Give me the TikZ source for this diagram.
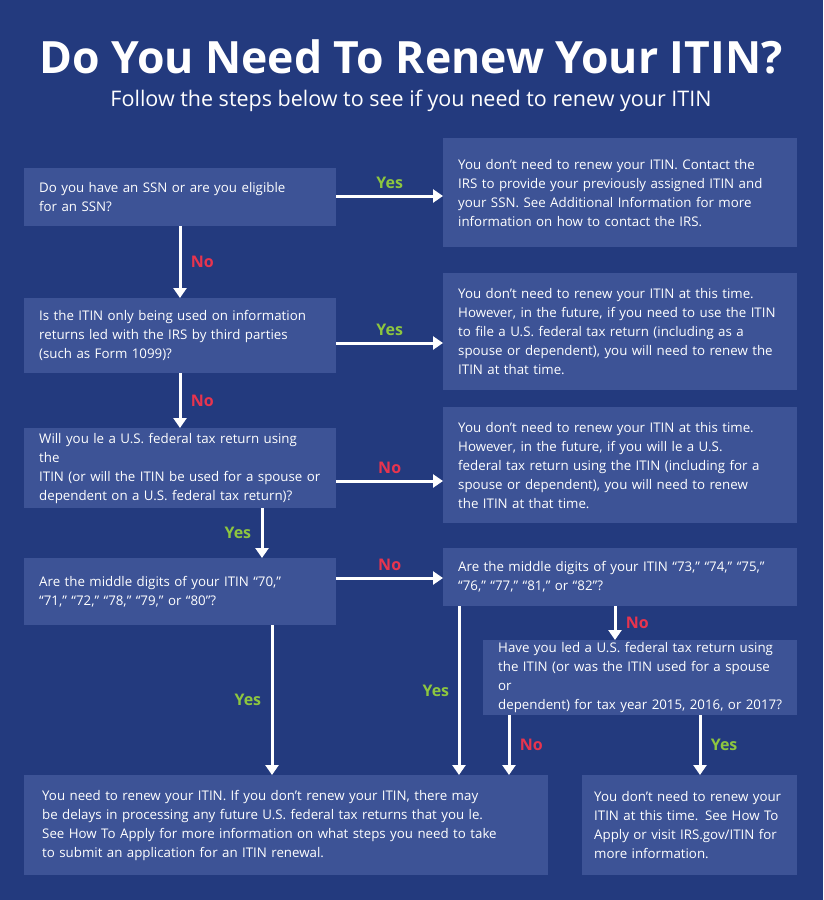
\documentclass[tikz,border=0pt]{standalone}
\usepackage{fontspec}
\setmainfont{Open Sans}
\usetikzlibrary{arrows.meta,calc}
\definecolor{bg}{HTML}{233A7E}
\definecolor{bx}{HTML}{3D5396}
\definecolor{yes}{HTML}{8DC63F}
\definecolor{no}{HTML}{E8344E}
\tikzset{
 box/.style={fill=bx,text=white,anchor=north west,align=left,inner xsep=15pt,inner ysep=0pt,font=\fontsize{13.3}{19}\selectfont},
 bs/.style 2 args={minimum width=#1pt,minimum height=#2pt,text width=#1pt-30pt},
 arr/.style={draw=white,line width=3pt,-{Triangle[width=13pt,length=10pt]}},
 yl/.style={text=yes,font=\bfseries\fontsize{16}{18}\selectfont},
 nl/.style={text=no,font=\bfseries\fontsize{16}{18}\selectfont}
}
\begin{document}
\begin{tikzpicture}[x=1pt,y=-1pt]
\fill[bg] (0,0) rectangle (823,900);
\useasboundingbox (0,0) rectangle (823,900);
\node[text=white,font=\bfseries\fontsize{44.5}{50}\selectfont] (title) at (411,57) {Do You Need To Renew Your ITIN?};
\node[text=white,font=\fontsize{21.5}{24}\selectfont] (sub) at (411,101) {Follow the steps below to see if you need to renew your ITIN};
\node[box,bs={312}{58}] (q1) at (24,168) {Do you have an SSN or are you eligible\\for an SSN?};
\node[box,bs={354}{109}] (a1) at (443,138) {You don’t need to renew your ITIN. Contact the\\IRS to provide your previously assigned ITIN and\\your SSN. See Additional Information for more\\information on how to contact the IRS.};
\node[box,bs={312}{75}] (q2) at (24,298) {Is the ITIN only being used on information\\returns led with the IRS by third parties\\(such as Form 1099)?};
\node[box,bs={354}{117}] (a2) at (443,273) {You don’t need to renew your ITIN at this time.\\However, in the future, if you need to use the ITIN\\to file a U.S. federal tax return (including as a\\spouse or dependent), you will need to renew the\\ITIN at that time.};
\node[box,bs={312}{80}] (q3) at (24,428) {Will you le a U.S. federal tax return using the\\ITIN (or will the ITIN be used for a spouse or\\dependent on a U.S. federal tax return)?};
\node[box,bs={354}{116}] (a3) at (443,407) {You don’t need to renew your ITIN at this time.\\However, in the future, if you will le a U.S.\\federal tax return using the ITIN (including for a\\spouse or dependent), you will need to renew\\the ITIN at that time.};
\node[box,bs={312}{67}] (q4) at (24,558) {Are the middle digits of your ITIN “70,”\\“71,” “72,” “78,” “79,” or “80”?};
\node[box,bs={354}{58}] (q5) at (443,548) {Are the middle digits of your ITIN “73,” “74,” “75,”\\“76,” “77,” “81,” or “82”?};
\node[box,bs={314}{75}] (q6) at (483,640) {Have you led a U.S. federal tax return using\\the ITIN (or was the ITIN used for a spouse or\\dependent) for tax year 2015, 2016, or 2017?};
\node[box,bs={524}{100},inner xsep=18pt,text width=488pt] (r1) at (24,775) {You need to renew your ITIN. If you don’t renew your ITIN, there may\\be delays in processing any future U.S. federal tax returns that you le.\\See How To Apply for more information on what steps you need to take\\to submit an application for an ITIN renewal.};
\node[box,bs={215}{100},inner xsep=12pt,text width=191pt] (r2) at (582,775) {You don’t need to renew your\\ITIN at this time. See How To\\Apply or visit IRS.gov/ITIN for\\more information.};
% arrows
\draw[arr] (q1.east |- 0,196) -- (a1.west |- 0,196) node[midway,above=3pt,yl] {Yes};
\draw[arr] ($(q1.south west)+(156,0)$) coordinate (t1) -- (t1 |- q2.north) node[midway,right=6pt,nl] {No};
\draw[arr] (q2.east |- 0,343) -- (a2.west |- 0,343) node[midway,above=3pt,yl] {Yes};
\draw[arr] ($(q2.south west)+(156,0)$) coordinate (t2) -- (t2 |- q3.north) node[midway,right=6pt,nl] {No};
\draw[arr] (q3.east |- 0,481) -- (a3.west |- 0,481) node[midway,above=3pt,nl] {No};
\draw[arr] ($(q3.south west)+(238,0)$) coordinate (t3) -- (t3 |- q4.north) node[midway,left=6pt,yl] {Yes};
\draw[arr] (q4.east |- 0,578) -- (q5.west |- 0,578) node[midway,above=3pt,nl] {No};
\draw[arr] ($(q4.south west)+(248,0)$) coordinate (t4) -- (t4 |- r1.north) node[midway,left=6pt,yl] {Yes};
\draw[arr] ($(q5.south west)+(16,0)$) coordinate (t5) -- (t5 |- r1.north) node[pos=0.5,left=5pt,yl] {Yes};
\draw[arr] ($(q5.south west)+(172,0)$) coordinate (t6) -- (t6 |- q6.north) node[midway,right=6pt,nl] {No};
\draw[arr] ($(q6.south west)+(26,0)$) coordinate (t7) -- (t7 |- r1.north) node[midway,right=6pt,nl] {No};
\draw[arr] ($(q6.south west)+(217,0)$) coordinate (t8) -- (t8 |- r2.north) node[midway,right=6pt,yl] {Yes};
\end{tikzpicture}
\end{document}
